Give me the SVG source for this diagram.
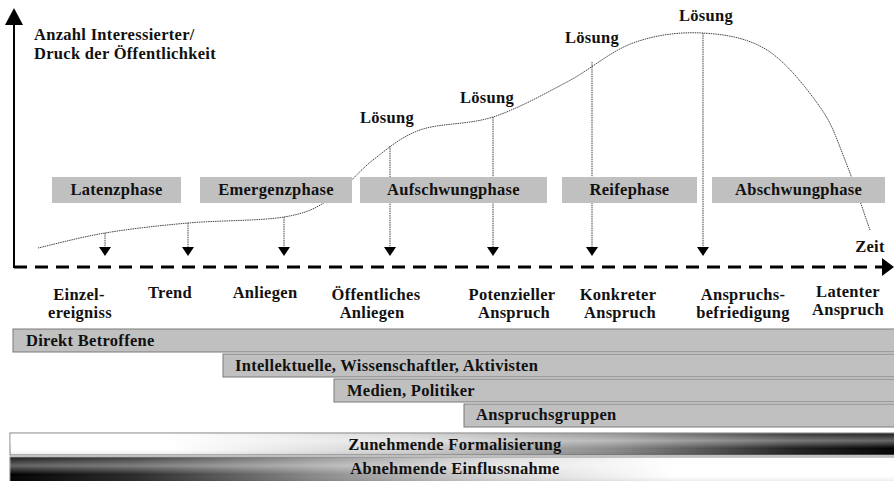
<svg xmlns="http://www.w3.org/2000/svg" width="894" height="481" viewBox="0 0 894 481">
<defs>
<style>
text{font-family:"Liberation Serif","Times New Roman",serif;font-weight:bold;font-size:16.5px;fill:#111;letter-spacing:0.3px}
.c{text-anchor:middle}
.phase rect{fill:#c0c0c0}
.band rect{fill:#c0c0c0;stroke:#7a7a7a;stroke-width:1}
.dot{fill:none;stroke:#444;stroke-width:1;stroke-dasharray:1.5 0.8}
.head{fill:#000}
</style>
<linearGradient id="gUp" x1="0" y1="0" x2="1" y2="0">
<stop offset="0" stop-color="#fff"/><stop offset="0.18" stop-color="#fff"/><stop offset="0.45" stop-color="#d2d2d2"/><stop offset="0.68" stop-color="#8a8a8a"/><stop offset="0.88" stop-color="#222"/><stop offset="1" stop-color="#000"/>
</linearGradient>
<linearGradient id="gDown" x1="0" y1="0" x2="1" y2="0">
<stop offset="0" stop-color="#000"/><stop offset="0.14" stop-color="#2a2a2a"/><stop offset="0.35" stop-color="#8c8c8c"/><stop offset="0.55" stop-color="#d8d8d8"/><stop offset="0.75" stop-color="#fff"/><stop offset="1" stop-color="#fff"/>
</linearGradient>
<linearGradient id="gSheen" x1="0" y1="0" x2="0" y2="1">
<stop offset="0" stop-color="#fff" stop-opacity="0.1"/><stop offset="0.35" stop-color="#fff" stop-opacity="0.4"/><stop offset="0.7" stop-color="#fff" stop-opacity="0"/><stop offset="1" stop-color="#000" stop-opacity="0.1"/>
</linearGradient>
</defs>
<rect width="894" height="481" fill="#fff"/>

<g id="curve">
<path class="dot" d="M38,248 C49.2,245.5 80,237.2 105,233 C130,228.8 158.2,225.7 188,223 C217.8,220.3 260.3,221 284,217 C307.7,213 315.2,208.5 330,199 C344.8,189.5 358,171.5 373,160 C388,148.5 400,137.2 420,130 C440,122.8 468.5,125 493,117 C517.5,109 543.7,94.3 567,82 C590.3,69.7 610.5,51.2 633,43 C655.5,34.8 679.7,31.8 702,33 C724.3,34.2 747.3,37.7 767,50 C786.7,62.3 807,88.7 820,107 C833,125.3 836.7,139.5 845,160 C853.3,180.5 865.8,218.3 870,230"/>
</g>

<g id="connectors">
<line class="dot" x1="105" y1="233" x2="105" y2="248"/>
<line class="dot" x1="188" y1="223" x2="188" y2="248"/>
<line class="dot" x1="284" y1="217" x2="284" y2="248"/>
<line class="dot" x1="390" y1="146" x2="390" y2="248"/>
<line class="dot" x1="493" y1="117" x2="493" y2="248"/>
<line class="dot" x1="592" y1="62" x2="592" y2="248"/>
<line class="dot" x1="703" y1="33" x2="703" y2="248"/>
<polygon class="head" points="99,247 111,247 105,256"/>
<polygon class="head" points="182,247 194,247 188,256"/>
<polygon class="head" points="278,247 290,247 284,256"/>
<polygon class="head" points="384,247 396,247 390,256"/>
<polygon class="head" points="487,247 499,247 493,256"/>
<polygon class="head" points="586,247 598,247 592,256"/>
<polygon class="head" points="697,247 709,247 703,256"/>
</g>

<g id="axes">
<line x1="14" y1="22" x2="14" y2="268" stroke="#000" stroke-width="2"/>
<polygon points="14,8 5,25 23,25" fill="#000"/>
<line x1="14" y1="267" x2="882" y2="267" stroke="#000" stroke-width="3" stroke-dasharray="13 8"/>
<polygon points="894,267 882,258 882,276" fill="#000"/>
<text x="34" y="40">Anzahl Interessierter/</text>
<text x="34" y="59">Druck der Öffentlichkeit</text>
<text class="c" x="870" y="252">Zeit</text>
</g>

<g id="loesung">
<text class="c" x="387" y="123">Lösung</text>
<text class="c" x="487" y="103">Lösung</text>
<text class="c" x="592" y="43">Lösung</text>
<text class="c" x="706" y="21">Lösung</text>
</g>

<g id="phase-latenz" class="phase"><rect x="52" y="177" width="129" height="26"/><text class="c" x="116.5" y="195">Latenzphase</text></g>
<g id="phase-emergenz" class="phase"><rect x="200" y="177" width="152" height="26"/><text class="c" x="276" y="195">Emergenzphase</text></g>
<g id="phase-aufschwung" class="phase"><rect x="360" y="177" width="187" height="26"/><text class="c" x="453.5" y="195">Aufschwungphase</text></g>
<g id="phase-reife" class="phase"><rect x="562" y="177" width="135" height="26"/><text class="c" x="629.5" y="195">Reifephase</text></g>
<g id="phase-abschwung" class="phase"><rect x="712" y="177" width="173" height="26"/><text class="c" x="798.5" y="195">Abschwungphase</text></g>

<g id="stages">
<text class="c" x="79" y="300">Einzel-</text><text class="c" x="80" y="318">ereigniss</text>
<text class="c" x="170" y="298">Trend</text>
<text class="c" x="265" y="298">Anliegen</text>
<text class="c" x="376" y="300">Öffentliches</text><text class="c" x="372" y="318">Anliegen</text>
<text class="c" x="512" y="300">Potenzieller</text><text class="c" x="514" y="318">Anspruch</text>
<text class="c" x="618" y="300">Konkreter</text><text class="c" x="620" y="318">Anspruch</text>
<text class="c" x="743" y="300">Anspruchs-</text><text class="c" x="743" y="318">befriedigung</text>
<text class="c" x="848" y="297">Latenter</text><text class="c" x="848" y="315">Anspruch</text>
</g>

<g id="band-direkt" class="band"><rect x="13" y="329" width="885" height="23"/><text x="26" y="346">Direkt Betroffene</text></g>
<g id="band-intellektuelle" class="band"><rect x="223" y="354" width="675" height="23"/><text x="235" y="371">Intellektuelle, Wissenschaftler, Aktivisten</text></g>
<g id="band-medien" class="band"><rect x="334" y="379" width="564" height="23"/><text x="347" y="396">Medien, Politiker</text></g>
<g id="band-anspruchsgruppen" class="band"><rect x="464" y="404" width="434" height="23"/><text x="476" y="420">Anspruchsgruppen</text></g>

<g id="bar-formalisierung">
<rect x="10" y="433" width="888" height="22" fill="url(#gUp)" stroke="#808080" stroke-width="1"/>
<rect x="10" y="433" width="888" height="22" fill="url(#gSheen)"/>
<text class="c" x="455" y="450">Zunehmende Formalisierung</text>
</g>
<g id="bar-einflussnahme">
<rect x="10" y="457" width="888" height="25" fill="url(#gDown)" stroke="#808080" stroke-width="1"/>
<rect x="10" y="457" width="888" height="25" fill="url(#gSheen)"/>
<text class="c" x="455" y="474">Abnehmende Einflussnahme</text>
</g>
</svg>
